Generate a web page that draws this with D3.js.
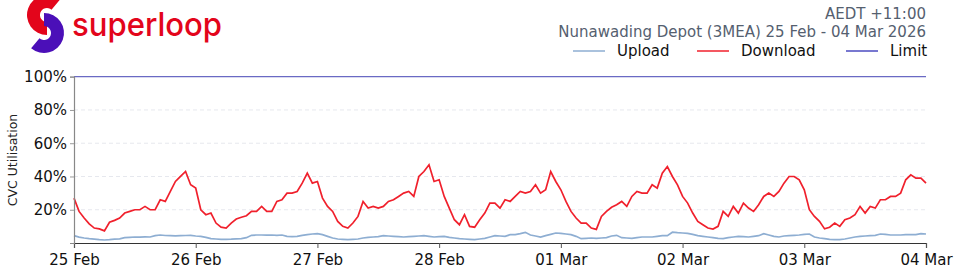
<!DOCTYPE html>
<html>
<head>
<meta charset="utf-8">
<script src="https://cdn.jsdelivr.net/npm/d3@7"></script>
<style>
  body { margin: 0; background: #fff; }
  svg { display: block; font-family: "DejaVu Sans", sans-serif; }
</style>
</head>
<body>
<div id="chart"></div>
<script>
// hourly samples, 25 Feb 00:00 -> 04 Mar 00:00
const startDate = Date.UTC(2026, 1, 25);
const tickLabels = ['25 Feb', '26 Feb', '27 Feb', '28 Feb', '01 Mar', '02 Mar', '03 Mar', '04 Mar'];
const yTicks = [20, 40, 60, 80, 100];
const limitValue = 100;

const download = [
  27, 19, 15, 11.5, 9, 8.5, 7.3, 12.5, 13.6, 15, 18, 19, 20, 20, 22, 20, 20, 26, 25, 31, 37, 40, 43, 35,
  33, 20, 17, 18, 12, 9.5, 9, 12, 14.4, 15.5, 16.4, 19, 19, 22, 19, 19, 25, 26, 30, 30, 31, 36, 42, 36,
  37, 27, 22, 19, 13, 10, 9, 12, 16, 25, 21, 22, 21, 22, 25, 26, 28, 30, 31, 28, 40, 43, 47, 37,
  38, 28, 21, 14, 11, 17, 10, 9.5, 14, 18, 24, 24, 21, 26, 25, 28, 31, 30, 31, 35, 30, 32, 43, 37,
  32, 25, 19, 15, 12, 12, 9, 8.2, 16, 19, 21.5, 23, 25, 22, 28, 31, 30, 30, 35, 33, 42, 46, 40, 35,
  28, 24, 18, 13, 11, 9, 8.4, 10, 19, 16, 22, 18, 24, 21, 19, 23, 28, 30, 28, 31, 36, 40, 40, 38,
  32, 20, 16, 13, 8.5, 9.5, 12, 10, 14, 15, 17, 22, 18, 22, 21, 26, 26, 28, 28, 30, 38, 41, 39, 39,
  36
];

const upload = [
  4.4, 3.5, 3, 2.6, 2.3, 2, 1.8, 2, 2.3, 2.5, 3.2, 3.4, 3.6, 3.5, 3.7, 3.6, 4.4, 4.8, 4.5, 4.4, 4.3, 4.4, 4.5, 4.6,
  4.2, 4, 3.4, 2.6, 2.4, 2.2, 2.2, 2.3, 2.5, 2.6, 3.2, 4.6, 4.8, 4.8, 4.7, 4.8, 4.6, 4.8, 4, 3.8, 4, 4.6, 5, 5.4,
  5.6, 5, 4, 3, 2.4, 2.2, 2, 2.2, 2.4, 3, 3.4, 3.6, 3.8, 4.4, 4.2, 4, 3.8, 3.6, 3.8, 4, 4.2, 4.4, 4, 3.6,
  3.8, 4, 3.4, 3, 2.6, 2.4, 2.2, 2, 2.4, 2.8, 3.6, 4.4, 4.2, 4, 5, 5, 5.6, 6.4, 4.8, 4.2, 3.6, 4.4, 5.2, 6,
  5.8, 5.4, 5, 4, 2.6, 2.8, 3, 2.8, 3, 3.2, 4.2, 4.6, 3.2, 3, 2.8, 3.2, 3.6, 3.6, 3.6, 4, 4.4, 4.4, 6.5, 6.2,
  6, 5.8, 5.2, 4.4, 4, 3.6, 3.2, 2.8, 2.6, 3.2, 3.6, 4, 3.8, 3.6, 4, 4.4, 5.6, 4.8, 4, 3.6, 4.2, 4.4, 4.6, 4.8,
  5.2, 5.4, 3.6, 3, 2.6, 2.2, 2, 2, 2.4, 3, 3.6, 4, 4.2, 4.4, 4.6, 5.4, 5.2, 4.8, 4.8, 4.8, 5, 5, 5, 5.6,
  5.4
];

const width = 960, height = 274;
const margin = {left: 74, right: 34, top: 77, bottom: 31};

const svg = d3.select('#chart').append('svg')
  .attr('width', width)
  .attr('height', height);

const hour = 3600 * 1000;
const x = d3.scaleUtc()
  .domain([new Date(startDate), new Date(startDate + 168 * hour)])
  .range([margin.left, width - margin.right]);

const y = d3.scaleLinear()
  .domain([0, 100])
  .range([height - margin.bottom, 76.7]);

// gridlines
svg.append('g')
  .selectAll('line')
  .data(yTicks.filter(d => d < 100))
  .enter().append('line')
  .attr('x1', margin.left).attr('x2', width - margin.right)
  .attr('y1', d => y(d)).attr('y2', d => y(d))
  .attr('stroke', '#e6e8ee')
  .attr('stroke-dasharray', '4,3');

// limit line
svg.append('line')
  .attr('x1', margin.left).attr('x2', width - margin.right)
  .attr('y1', y(limitValue)).attr('y2', y(limitValue))
  .attr('stroke', '#6a6ac4')
  .attr('stroke-width', 1.2);

const line = d3.line()
  .x((d, i) => x(new Date(startDate + i * hour)))
  .y(d => y(d));

svg.append('path')
  .datum(upload)
  .attr('fill', 'none')
  .attr('stroke', '#8eaed2')
  .attr('stroke-width', 1.7)
  .attr('d', line);

svg.append('path')
  .datum(download)
  .attr('fill', 'none')
  .attr('stroke', '#f0202c')
  .attr('stroke-width', 1.7)
  .attr('d', line);

// axes
const xAxis = svg.append('g')
  .attr('transform', 'translate(0,' + (height - margin.bottom) + ')')
  .call(d3.axisBottom(x)
    .ticks(d3.utcDay.every(1))
    .tickFormat((d, i) => tickLabels[i])
    .tickSizeOuter(0)
    .tickSize(5));
xAxis.select('.domain').attr('stroke', '#333').attr('stroke-width', 1.2);
xAxis.selectAll('.tick line').attr('stroke', '#555');
xAxis.selectAll('text')
  .attr('font-size', 15)
  .attr('font-family', '"DejaVu Sans", sans-serif')
  .attr('fill', '#111')
  .attr('dy', '0.95em');

const yAxis = svg.append('g')
  .attr('transform', 'translate(' + margin.left + ',0)')
  .call(d3.axisLeft(y)
    .tickValues(yTicks)
    .tickFormat(d => d + '%')
    .tickSizeOuter(0)
    .tickSize(4));
yAxis.select('.domain').attr('stroke', '#888').attr('stroke-width', 1.2);
yAxis.selectAll('.tick line').attr('stroke', '#999');
yAxis.selectAll('text')
  .attr('font-size', 15)
  .attr('font-family', '"DejaVu Sans", sans-serif')
  .attr('fill', '#111')
  .attr('x', -7);

svg.append('text')
  .attr('transform', 'translate(17,160) rotate(-90)')
  .attr('text-anchor', 'middle')
  .attr('font-size', 12.5)
  .attr('fill', '#222')
  .text('CVC Utilisation');

// header
svg.append('text')
  .attr('x', 926).attr('y', 19)
  .attr('text-anchor', 'end')
  .attr('font-size', 15)
  .attr('fill', '#55606f')
  .text('AEDT +11:00');

svg.append('text')
  .attr('x', 926).attr('y', 37)
  .attr('text-anchor', 'end')
  .attr('font-size', 15)
  .attr('fill', '#55606f')
  .text('Nunawading Depot (3MEA) 25 Feb - 04 Mar 2026');

// legend
const legend = [
  {name: 'Upload', color: '#8eaed2', x: 573},
  {name: 'Download', color: '#f0202c', x: 697},
  {name: 'Limit', color: '#4b4bc0', x: 846}
];
const lg = svg.append('g').selectAll('g').data(legend).enter().append('g');
lg.append('line')
  .attr('x1', d => d.x).attr('x2', d => d.x + 32)
  .attr('y1', 51).attr('y2', 51)
  .attr('stroke', d => d.color)
  .attr('stroke-width', 1.5);
lg.append('text')
  .attr('x', d => d.x + 44).attr('y', 56)
  .attr('font-size', 15)
  .attr('fill', '#111')
  .text(d => d.name);

// logo
const logo = svg.append('g');
logo.append('path')
  .attr('d', d3.arc()({innerRadius: 7, outerRadius: 20, startAngle: 0.7, endAngle: -Math.PI}))
  .attr('transform', 'translate(47,15)')
  .attr('fill', '#e3051b');
logo.append('path')
  .attr('d', d3.arc()({innerRadius: 7, outerRadius: 20, startAngle: 0, endAngle: Math.PI + 0.7}))
  .attr('transform', 'translate(44,33)')
  .attr('fill', '#4b0fb8');
svg.append('text')
  .attr('x', 72).attr('y', 36)
  .attr('font-family', 'Inter, "Noto Sans", sans-serif')
  .attr('font-weight', 500)
  .attr('font-size', 33)
  .attr('fill', '#e3051b')
  .attr('textLength', 150)
  .attr('lengthAdjust', 'spacingAndGlyphs')
  .text('superloop');
</script>
</body>
</html>
